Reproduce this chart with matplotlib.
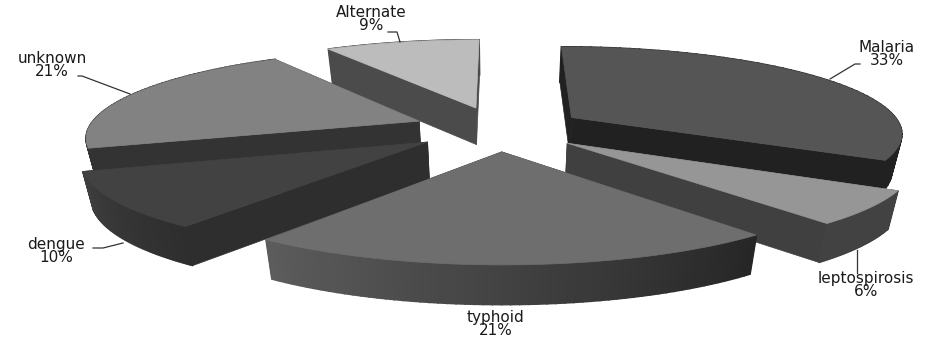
import numpy as np
import matplotlib
matplotlib.use("Agg")
import matplotlib.pyplot as plt

# pie values, clockwise from the top
names = ['Malaria', 'leptospirosis', 'typhoid', 'dengue', 'unknown', 'Alternate']
values = [33, 6, 21, 10, 21, 9]

# slice colours: top, radial face, outer wall at start and end of the arc
top_cols = ['#555555', '#969696', '#6e6e6e', '#424242', '#828282', '#bcbcbc']
face_cols = ['#212121', '#404040', '#2e2e2e', '#2e2e2e', '#333333', '#4b4b4b']
arc_start = [0x21, 0x42, 0x26, 0x2e, 0x33, 0x4b]
arc_end = [0x21, 0x42, 0x5c, 0x3e, 0x33, 0x4b]

# far slices go first so the near ones paint over them
draw_order = [5, 0, 4, 1, 3, 2]

# label centre, then leader line from the pie to the label
label_pos = [(887, 54), (866, 285), (496, 324), (56, 251), (52, 65), (371, 19)]
leaders = [[(830, 79), (855, 64), (860, 64)],
           [(857, 250), (857, 273)],
           [],
           [(123, 243), (103, 248), (93, 248)],
           [(130, 94), (82, 76), (78, 76)],
           [(400, 42), (397, 32), (388, 32)]]

# projection of the tilted pie
cx, cy = 499, 128.6
rx, ry = 331, 85.7
k = 0.165
explode = 0.26
depth = 37
taper = 0.975

def project(u, v):
    s = 1 / (1 + k * v)
    return cx + rx * u * s, cy - ry * v * s, s

def bottom(x, y, s):
    return cx + (x - cx) * taper, y + depth * s**0.3

fig = plt.figure(figsize=(9.27, 3.39), dpi=100)
ax = fig.add_axes([0, 0, 1, 1])
ax.set_xlim(0, 927)
ax.set_ylim(339, 0)
ax.axis('off')

edges = np.cumsum([0] + values) / sum(values) * 2 * np.pi

for i in draw_order:
    a0, a1 = edges[i], edges[i + 1]
    mid = (a0 + a1) / 2
    ou, ov = explode * np.sin(mid), explode * np.cos(mid)
    t = np.linspace(a0, a1, 60)
    x, y, s = project(ou + np.sin(t), ov + np.cos(t))
    bx, by = bottom(x, y, s)
    ax0, ay0, as0 = project(ou, ov)
    abx, aby = bottom(ax0, ay0, as0)

    # radial faces
    for j in [0, -1]:
        ax.fill([ax0, x[j], bx[j], abx], [ay0, y[j], by[j], aby],
                color=face_cols[i], lw=0.5)

    # outer wall, split in strips for the gradient
    for j in range(len(t) - 1):
        g = arc_start[i] + (arc_end[i] - arc_start[i]) * j / (len(t) - 2)
        c = str(g / 255)
        ax.fill([x[j], x[j + 1], bx[j + 1], bx[j]], [y[j], y[j + 1], by[j + 1], by[j]],
                color=c, lw=1.2)

    # top
    ax.fill(np.r_[ax0, x], np.r_[ay0, y], color=top_cols[i], lw=0.5)

for name, v, pos, line in zip(names, values, label_pos, leaders):
    ax.text(pos[0], pos[1], name + "\n" + str(v) + "%", ha='center', va='center',
            fontsize=11, family='DejaVu Sans', color='#1a1a1a', linespacing=0.85)
    if line:
        ax.plot([p[0] for p in line], [p[1] for p in line], color='#333333', lw=0.9)

plt.savefig('out.png', dpi=100)
